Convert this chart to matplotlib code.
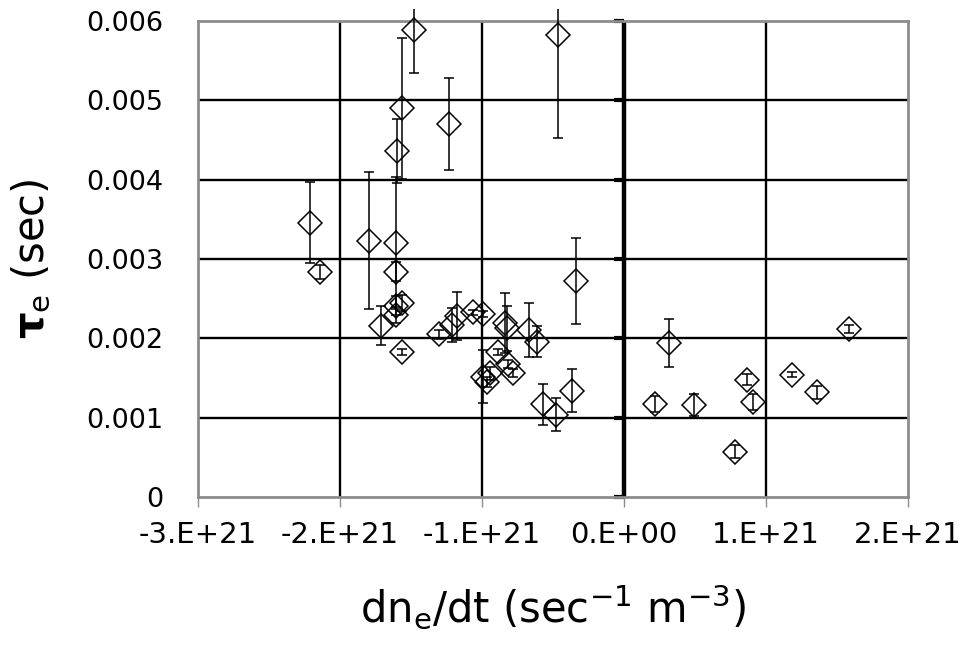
import numpy as np
import matplotlib
matplotlib.use("Agg")
import matplotlib.pyplot as plt
from matplotlib.patches import Rectangle

# dne/dt in units of 1e21 sec^-1 m^-3, tau_e and its error in ms
dndt = [-2.214, -2.14, -1.796, -1.714, -1.606, -1.606, -1.60, -1.566, -1.479, -1.23,
        -1.566, -1.606, -1.606, -1.561, -1.303, -1.209, -1.178, -1.061, -0.99, -0.99,
        -0.967, -0.944, -0.885, -0.838, -0.826, -0.815, -0.78, -0.671, -0.61, -0.338,
        -0.568, -0.481, -0.364, -0.465, 0.218, 0.317, 0.495, 0.782, 0.864, 0.911,
        1.181, 1.357, 1.587]
tau = [3.455, 2.84, 3.23, 2.16, 3.20, 2.84, 4.36, 4.90, 5.89, 4.70,
       2.45, 2.41, 2.29, 1.83, 2.05, 2.17, 2.28, 2.33, 2.31, 1.515,
       1.45, 1.56, 1.83, 2.19, 2.125, 1.68, 1.56, 2.11, 1.96, 2.72,
       1.17, 1.04, 1.34, 5.82, 1.17, 1.94, 1.16, 0.57, 1.48, 1.20,
       1.54, 1.32, 2.12]
tau_err = [0.51, 0.09, 0.86, 0.245, 0.83, 0.12, 0.40, 0.89, 0.55, 0.58,
           0.10, 0.12, 0.10, 0.04, 0.06, 0.21, 0.30, 0.03, 0.04, 0.335,
           0.06, 0.08, 0.04, 0.38, 0.28, 0.05, 0.05, 0.34, 0.20, 0.54,
           0.26, 0.21, 0.27, 1.29, 0.10, 0.30, 0.14, 0.08, 0.07, 0.10,
           0.03, 0.08, 0.05]

xticks = [-3e21, -2e21, -1e21, 0, 1e21, 2e21]
xticklabels = ["-3.E+21", "-2.E+21", "-1.E+21", "0.E+00", "1.E+21", "2.E+21"]
yticks = [0, 0.001, 0.002, 0.003, 0.004, 0.005, 0.006]
yticklabels = ["0", "0.001", "0.002", "0.003", "0.004", "0.005", "0.006"]

x = np.array(dndt) * 1e21
y = np.array(tau) * 1e-3
e = np.array(tau_err) * 1e-3

fig = plt.figure(figsize=(9.69, 6.54), dpi=100)
ax = fig.add_axes([0.2043, 0.240, 0.7327, 0.728])
ax.set_xlim(-3e21, 2e21)
ax.set_ylim(0, 0.006)

# grid lines (black) like the excel chart
for g in yticks[1:-1]:
    ax.axhline(g, color="black", lw=1.7, zorder=1)
for g in [-2e21, -1e21, 1e21]:
    ax.axvline(g, color="black", lw=1.7, zorder=1)
# the value axis crosses at x = 0
ax.axvline(0, color="black", lw=3.2, zorder=2)
ax.plot(np.zeros(len(yticks)), yticks, ls="none", marker=0, ms=7, mew=3,
        color="black", clip_on=False, zorder=2)

gray = "#8c8c8c"
for s in ax.spines.values():
    s.set_color(gray)
    s.set_linewidth(2)

ax.set_xticks(xticks)
ax.set_xticklabels(xticklabels, fontsize=21)
ax.set_yticks(yticks)
ax.set_yticklabels(yticklabels, fontsize=19.5)
ax.tick_params(axis="x", direction="out", length=7, width=1, color=gray, pad=10)
ax.tick_params(axis="y", length=0, pad=25)

eb = ax.errorbar(x, y, yerr=e, fmt="D", ms=12, mfc="none", mec="black", mew=1.1,
                 ecolor="black", elinewidth=1.1, capsize=3.6, capthick=1.1,
                 clip_on=False, zorder=3)
# bars may run a little above the plot area, then are cut off
clip = Rectangle((0, 0), 1, 1.025, transform=ax.transAxes)
for art in list(eb[1]) + list(eb[2]):
    art.set_clip_on(True)
    art.set_clip_path(clip)

ax.set_xlabel(r"dn$_\mathrm{e}$/dt (sec$^{-1}$ m$^{-3}$)", fontsize=30, labelpad=24)
ax.set_ylabel(r"$\mathbf{\tau}_\mathrm{e}$ (sec)", fontsize=30, labelpad=24)

fig.savefig("out.png", dpi=100)
